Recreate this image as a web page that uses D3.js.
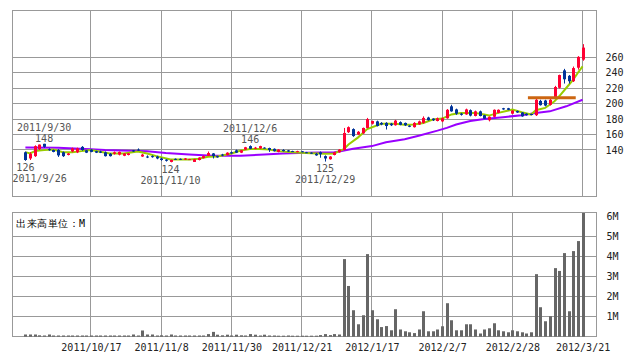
<!DOCTYPE html>
<html lang="ja">
<head>
<meta charset="utf-8">
<title>株価チャート</title>
<script src="https://d3js.org/d3.v7.min.js"></script>
<style>
  body { margin: 0; background: #fff; }
  svg { display: block; }
  text { font-family: "DejaVu Sans Mono", monospace; font-size: 10px; }
</style>
</head>
<body>
<script>
// 日付 (営業日)
var dates = [
  "2011/9/26","2011/9/27","2011/9/28","2011/9/29","2011/9/30",
  "2011/10/3","2011/10/4","2011/10/5","2011/10/6","2011/10/7",
  "2011/10/11","2011/10/12","2011/10/13","2011/10/14",
  "2011/10/17","2011/10/18","2011/10/19","2011/10/20","2011/10/21",
  "2011/10/24","2011/10/25","2011/10/26","2011/10/27","2011/10/28",
  "2011/10/31","2011/11/1","2011/11/2","2011/11/4",
  "2011/11/7","2011/11/8","2011/11/9","2011/11/10","2011/11/11",
  "2011/11/14","2011/11/15","2011/11/16","2011/11/17","2011/11/18",
  "2011/11/21","2011/11/22","2011/11/24","2011/11/25",
  "2011/11/28","2011/11/29","2011/11/30","2011/12/1","2011/12/2",
  "2011/12/5","2011/12/6","2011/12/7","2011/12/8","2011/12/9",
  "2011/12/12","2011/12/13","2011/12/14","2011/12/15","2011/12/16",
  "2011/12/19","2011/12/20","2011/12/21","2011/12/22",
  "2011/12/26","2011/12/27","2011/12/28","2011/12/29","2011/12/30",
  "2012/1/4","2012/1/5","2012/1/6",
  "2012/1/10","2012/1/11","2012/1/12","2012/1/13",
  "2012/1/16","2012/1/17","2012/1/18","2012/1/19","2012/1/20",
  "2012/1/23","2012/1/24","2012/1/25","2012/1/26","2012/1/27",
  "2012/1/30","2012/1/31","2012/2/1","2012/2/2","2012/2/3",
  "2012/2/6","2012/2/7","2012/2/8","2012/2/9","2012/2/10",
  "2012/2/13","2012/2/14","2012/2/15","2012/2/16","2012/2/17",
  "2012/2/20","2012/2/21","2012/2/22","2012/2/23","2012/2/24",
  "2012/2/27","2012/2/28","2012/2/29","2012/3/1","2012/3/2",
  "2012/3/5","2012/3/6","2012/3/7","2012/3/8","2012/3/9",
  "2012/3/12","2012/3/13","2012/3/14","2012/3/15","2012/3/16",
  "2012/3/19","2012/3/21"
];

var open = [137,129,132,141,148,141,140,140,137,133.5,138,137,144,139.5,140.5,138.5,138,137,135,135,
  134,132.5,133.5,139.5,140.5,131.5,131.5,132,131.5,129,127.5,124.5,128.5,128.5,127.5,128,124.5,127,129.5,132.5,
  135.5,132,134,133.5,137,139.5,136.5,140.5,145,141.5,142,143,142.5,141.5,137.5,140,139.5,138.5,137.5,138.2,
  137,136.5,135,137,132,128,133.5,137,140,163,167,160,161.5,168.5,174,177,175,175,174,172,
  176,175,171.5,169.5,173,175,182,180.5,177.5,177,181,196.5,192.5,187,186,191.5,184,190,185,178.5,
  183,188,194,194,187,190.5,188.5,187,186.5,185,203.5,204,198.5,208,220.5,243,236,229,246.5,257];
var high = [138,137,146,147,148,142,140.5,141,138,136,143,143,145,140,141,139,139,138,136,138,
  138,136,136,140,142,135,133,133,132.5,130,128,127.5,129,129,129.5,128.5,128.5,130.5,133,138,
  136,132.5,135,137,138,140.5,140,144,146,144,145.5,143.5,143,142,141,141,140,139,139,138.5,
  137.5,137,136,138,133,132,137.5,141,168.5,170.5,168,164.5,169,181.5,178,178,176,176,175,179,
  177,175.5,172,176,178,183.5,183,181,182,182,193,198.5,193.5,188,193.5,192.5,191,191,185.5,183.5,
  192.5,192.5,194.5,194.5,191.5,191,189,187.5,187,207,205,205,206,223,237.5,245,237,248,261.5,277];
var low = [126,127,131,140,143,139,137,131,131,133,137,136,139,136,137,136,136,131.5,131.5,134,
  133,132,133,137.5,139,131,129.5,130,128,126,125,124,127,127,127,127.5,124.5,126.5,129,132,
  129,130,132,133,135,136,136,140,141,141,141.5,142,137.5,138,137,138,137.5,137.5,137,137.5,
  136,135,132.5,130,125,127.5,133,136.5,139.5,162,157,159.5,161,168,173,170.5,172,166.5,171,171.5,
  172,171,169.5,169,172.5,174,178,177.5,177,176,180.5,189.5,185.5,184.5,185.5,183.5,183.5,183.5,180,177,
  182.5,187.5,192,191.5,186.5,188,183,184.5,185,184,197.5,196.5,197.5,207,219.5,226,226,228,244,255.5];
var close = [127,135,145,147,144,140,137.5,133,132,135.5,142,142,140,136.5,137.5,136.5,136.5,132,132,137,
  137.5,135.5,135.5,138,139.5,134,130.5,131,129,127,126,127,127.5,127.5,129,128.2,128,130,132,136,
  132,130.5,133,136.5,135.5,136.5,139.5,143.5,141.5,143,145,142.5,140,138.5,140.5,138.5,138,138,138.5,138,
  136.5,135.5,133,134.5,129,131.5,137,140.5,162,169.5,158,163.5,168.5,180,177.5,171,173,171,172,178,
  172.5,172,170,175,177,181.5,178.5,178.5,181,181,192,190,187,185.5,192.5,184.5,190,184,180.5,183,
  192,192,192.5,192,191,188.5,183.5,185,185.5,205,198,197.5,205,221.5,237,231.5,229,246,260.5,272.5];

// 出来高 (M)
var volume = [0.11,0.11,0.11,0.07,0.06,0.11,0.06,0.06,0.06,0.06,0.06,0.06,0.06,0.06,0.06,0.06,0.06,0.06,0.06,0.06,
  0.06,0.06,0.06,0.11,0.06,0.31,0.11,0.11,0.06,0.07,0.06,0.11,0.06,0.06,0.06,0.06,0.06,0.06,0.06,0.13,
  0.24,0.1,0.07,0.1,0.06,0.1,0.07,0.06,0.13,0.1,0.06,0.1,0.06,0.06,0.05,0.05,0.06,0.05,0.05,0.05,
  0.05,0.05,0.05,0.08,0.13,0.08,0.13,0.11,3.87,2.53,1.32,0.62,1.07,4.12,1.32,0.87,0.48,0.53,0.32,1.37,
  0.36,0.27,0.22,0.18,0.36,1.27,0.27,0.27,0.36,0.52,1.67,0.82,0.32,0.32,0.62,0.62,0.36,0.16,0.36,0.42,
  0.67,0.32,0.27,0.22,0.32,0.27,0.22,0.16,0.22,3.12,1.47,0.77,1.02,3.42,3.28,4.17,1.27,4.27,4.77,6.17];

// 移動平均 [index, value]
var maShort = [[0,137.2],[1,135.5],[2,138.5],[4,139.8],[6,140.6],[8,137.2],[10,137.2],[12,138.5],[14,139.8],
  [16,137.7],[18,135.5],[21,135.5],[24,138],[26,135.5],[28,132],[31,127.7],[35,127.7],[37,128.6],[39,131.2],
  [41,131.5],[44,135.4],[46,139.4],[48,141.3],[50,141.3],[52,140.6],[54,138.5],[57,137.2],[59,136.3],[61,135.9],
  [64,135],[66,135.5],[67,138.5],[68,141],[69,147],[71,156],[73,167],[76,174],[79,174],[81,172.5],[83,173],
  [85,175],[87,179.4],[89,180.6],[91,186],[93,188],[96,188],[98,185.8],[99,184.5],[101,188],[104,192.3],
  [106,188.9],[108,185.8],[109,191.4],[111,194.4],[113,203],[114,209.5],[115.5,220.2],[117,231],[118,240],[119,248.2]];
var maLong = [[0,143.2],[7,143],[14,141],[17,139.8],[26,138.2],[30,136],[35,134.2],[40,132.5],[46,132.5],
  [51,134],[55,135.5],[60,136.3],[66,137],[67,138],[70,141.5],[74,145],[77,150],[81,154],[84,158.5],[88,165],
  [90,168.6],[92,173],[95,177.5],[98,180],[102,182.5],[106,185],[109,188],[112,190],[115.5,196.5],[119,205]];

var priceTicks = [140, 160, 180, 200, 220, 240, 260];
var volTicks = [1, 2, 3, 4, 5, 6];
var volGrid = [1, 2, 3, 4, 5];
var xTickDates = ["2011/10/17","2011/11/8","2011/11/30","2011/12/21","2012/1/17","2012/2/7","2012/2/28","2012/3/21"];
var highMarks = ["2011/9/30", "2011/12/6"];
var lowMarks = ["2011/9/26", "2011/11/10", "2011/12/29"];
var resistanceLevel = 207.5;
var resistanceDates = ["2012/3/2", "2012/3/16"];

var width = 638, height = 362;
var left = 12.5, right = 596.5;
var pTop = 10.5, pBottom = 196.5;
var vTop = 212.5, vBottom = 336.5;

var svg = d3.select("body").append("svg")
  .attr("width", width)
  .attr("height", height);

var x = d3.scaleLinear().domain([0, dates.length - 1]).range([25.4, 582.6]);
var y = d3.scaleLinear().domain([79.5, 321.2]).range([196.7, 10]);
var yv = d3.scaleLinear().domain([0, 6.2]).range([336.7, 212.4]);

var crisp = function(v) { return Math.round(v - 0.5) + 0.5; };
var tickIdx = xTickDates.map(function(d) { return dates.indexOf(d); });

// 枠とグリッド
var grid = svg.append("g").attr("stroke", "#999").attr("stroke-width", 1).attr("fill", "none");
grid.append("rect").attr("x", left).attr("y", pTop).attr("width", right - left).attr("height", pBottom - pTop);
grid.append("rect").attr("x", left).attr("y", vTop).attr("width", right - left).attr("height", vBottom - vTop);

grid.selectAll(".hp").data(priceTicks).enter().append("line")
  .attr("x1", left).attr("x2", right)
  .attr("y1", function(d) { return crisp(y(d)); })
  .attr("y2", function(d) { return crisp(y(d)); });
grid.selectAll(".hv").data(volGrid).enter().append("line")
  .attr("x1", left).attr("x2", right)
  .attr("y1", function(d) { return crisp(yv(d)); })
  .attr("y2", function(d) { return crisp(yv(d)); });
grid.selectAll(".vp").data(tickIdx).enter().append("line")
  .attr("x1", function(d) { return crisp(x(d)); }).attr("x2", function(d) { return crisp(x(d)); })
  .attr("y1", pTop).attr("y2", pBottom);
grid.selectAll(".vv").data(tickIdx).enter().append("line")
  .attr("x1", function(d) { return crisp(x(d)); }).attr("x2", function(d) { return crisp(x(d)); })
  .attr("y1", vTop).attr("y2", vBottom);

// 移動平均線
var line = d3.line()
  .x(function(d) { return x(d[0]); })
  .y(function(d) { return y(d[1]); });

svg.append("path").datum(maLong)
  .attr("d", line).attr("fill", "none")
  .attr("stroke", "#9900ff").attr("stroke-width", 2);
svg.append("path").datum(maShort)
  .attr("d", line).attr("fill", "none")
  .attr("stroke", "#99cc00").attr("stroke-width", 2);

// ローソク足
var idx = d3.range(dates.length);
var colour = function(i) { return close[i] >= open[i] ? "#ff0033" : "#003399"; };

svg.append("g").selectAll("rect").data(idx).enter().append("rect")
  .attr("x", function(i) { return Math.round(x(i)); })
  .attr("width", 1)
  .attr("y", function(i) { return y(high[i]); })
  .attr("height", function(i) { return Math.max(1, y(low[i]) - y(high[i])); })
  .attr("fill", colour);

svg.append("g").selectAll("rect").data(idx).enter().append("rect")
  .attr("x", function(i) { return Math.round(x(i)) - 1; })
  .attr("width", 3)
  .attr("y", function(i) { return y(Math.max(open[i], close[i])); })
  .attr("height", function(i) { return Math.max(1, Math.abs(y(open[i]) - y(close[i]))); })
  .attr("fill", colour);

// 抵抗線
svg.append("line")
  .attr("x1", x(dates.indexOf(resistanceDates[0])) + 1.5)
  .attr("x2", x(dates.indexOf(resistanceDates[1])) + 2.5)
  .attr("y1", y(resistanceLevel)).attr("y2", y(resistanceLevel))
  .attr("stroke", "#cc6611").attr("stroke-width", 3);

// 出来高
svg.append("g").selectAll("rect").data(idx).enter().append("rect")
  .attr("x", function(i) { return Math.round(x(i)) - 1; })
  .attr("width", 3)
  .attr("y", function(i) { return yv(volume[i]); })
  .attr("height", function(i) { return yv(0) - yv(volume[i]); })
  .attr("fill", "#666");

// 高値・安値ラベル
function label(txt, cx, by) {
  var t = svg.append("text")
    .attr("x", cx).attr("y", by)
    .attr("text-anchor", "middle")
    .attr("fill", "#555")
    .text(txt);
  var w = t.node().getComputedTextLength();
  if (cx - w / 2 < left) t.attr("x", left + w / 2);
}
highMarks.forEach(function(d) {
  var i = dates.indexOf(d);
  label(Math.round(high[i]), x(i), y(high[i]) - 2);
  label(d, x(i), y(high[i]) - 13);
});
lowMarks.forEach(function(d) {
  var i = dates.indexOf(d);
  label(Math.round(low[i]), x(i), y(low[i]) + 10.5);
  label(d, x(i), y(low[i]) + 21.5);
});

// 軸
var yAxis = svg.append("g")
  .attr("transform", "translate(" + right + ",0)")
  .call(d3.axisRight(y).tickValues(priceTicks).tickSize(0).tickPadding(9));
var vAxis = svg.append("g")
  .attr("transform", "translate(" + right + ",0)")
  .call(d3.axisRight(yv).tickValues(volTicks).tickSize(0).tickPadding(10)
    .tickFormat(function(d) { return d + "M"; }));
var xAxis = svg.append("g")
  .attr("transform", "translate(0," + vBottom + ")")
  .call(d3.axisBottom(x).tickValues(tickIdx).tickSize(0).tickPadding(7)
    .tickFormat(function(d) { return dates[d]; }));

[yAxis, vAxis, xAxis].forEach(function(a) {
  a.select(".domain").remove();
  a.selectAll("text")
    .attr("font-family", "DejaVu Sans Mono, monospace")
    .attr("font-size", "10px")
    .attr("fill", "#222");
});

svg.append("text")
  .attr("x", 16).attr("y", 227)
  .attr("font-family", "Noto Sans CJK JP")
  .attr("font-size", "11px")
  .attr("letter-spacing", "0.5px")
  .attr("fill", "#000")
  .text("出来高単位：M");
</script>
</body>
</html>
